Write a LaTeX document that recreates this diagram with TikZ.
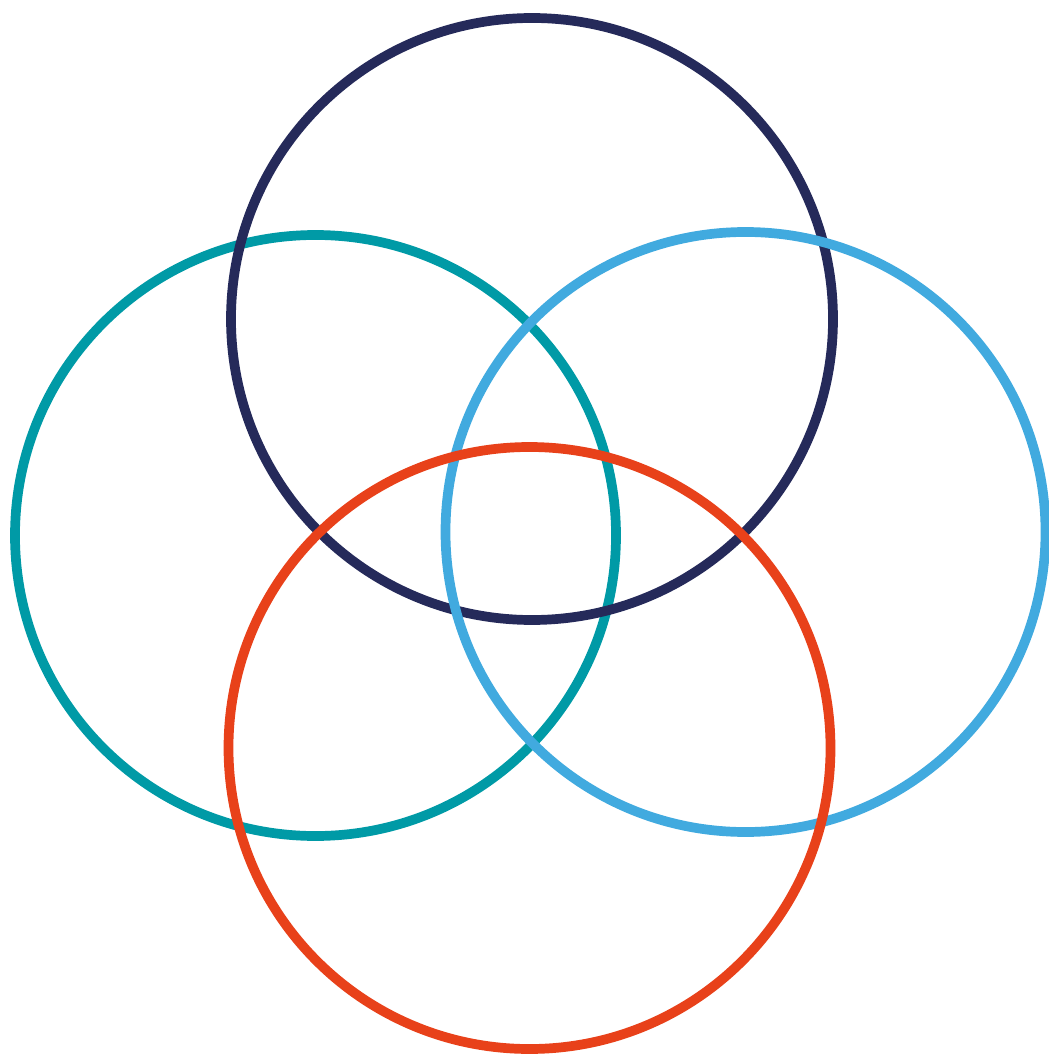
\documentclass[tikz,border=0pt]{standalone}
\usepackage{xcolor}
\usepackage{tikz}

\definecolor{navyring}{HTML}{252A5A}
\definecolor{tealring}{HTML}{009AA6}
\definecolor{skyring}{HTML}{41AADF}
\definecolor{redring}{HTML}{E8411A}

\begin{document}
\begin{tikzpicture}[x=0.01cm, y=-0.01cm, ring/.style={line width=0.097cm}]
                \useasboundingbox (0,0) rectangle (1048,1055);
                \coordinate (teal) at (315.5,535.5);
                \coordinate (navy) at (532,319);
                \coordinate (sky) at (745.5,532);
                \coordinate (red) at (529.5,748);

                \draw[ring, tealring] (teal) circle[radius=300.5];
                \draw[ring, navyring] (navy) circle[radius=301];
                \draw[ring, skyring] (sky) circle[radius=300];
                \draw[ring, redring] (red) circle[radius=301];
            \end{tikzpicture}
\end{document}
